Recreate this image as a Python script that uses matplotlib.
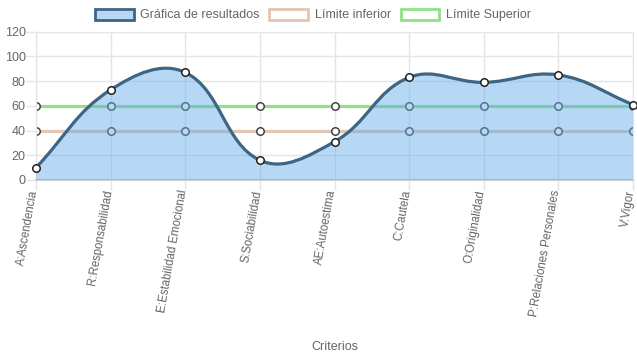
import numpy as np
import matplotlib
matplotlib.use("Agg")
import matplotlib.pyplot as plt
import matplotlib.transforms as mtransforms
from matplotlib.path import Path
from matplotlib.patches import PathPatch, Patch

plt.rcParams['font.family'] = ['Liberation Sans', 'DejaVu Sans']

criterios = ['A:Ascendencia', 'R:Responsabilidad', 'E:Estabilidad Emocional',
             'S:Sociabilidad', 'AE:Autoestima', 'C:Cautela', 'O:Originalidad',
             'P:Relaciones Personales', 'V:Vigor']
resultados = [10, 73, 87, 16, 31, 83, 79, 85, 61]
limite_inferior = [40, 40, 40, 40, 40, 40, 40, 40, 40]
limite_superior = [60, 60, 60, 60, 60, 60, 60, 60, 60]
y_ticks = [0, 20, 40, 60, 80, 100, 120]

TXT = '#666666'
GRID = '#e5e5e5'
LINE = '#3f6585'
FILL = (97/255, 170/255, 235/255, 0.45)
C_INF = '#e3c5b5'
C_SUP = '#8fe186'

W, H = 637, 359
fig = plt.figure(figsize=(W/100, H/100), dpi=100)
ax = fig.add_axes([36/W, 1-180/H, (633-36)/W, (180-31.7)/H])
x = np.arange(len(criterios))
ax.set_xlim(0, len(criterios)-1)
ax.set_ylim(0, 120)

# limit lines (drawn below the filled results dataset)
ax.plot(x, limite_inferior, color=C_INF, lw=2.3, zorder=2,
        marker='o', ms=5.4, mfc='white', mec='#444444', mew=1.1)
ax.plot(x, limite_superior, color=C_SUP, lw=2.3, zorder=2,
        marker='o', ms=5.4, mfc='white', mec='#444444', mew=1.1)

# Chart.js-like bezier spline (tension 0.4) computed in pixel space
def spline_path(xs, ys, t=0.4):
    pts = ax.transData.transform(np.column_stack([xs, ys]))
    n = len(pts)
    cp_prev, cp_next = [], []
    for i in range(n):
        prev = pts[i-1] if i > 0 else pts[i]
        cur = pts[i]
        nxt = pts[i+1] if i < n-1 else pts[i]
        d01 = np.hypot(*(cur-prev))
        d12 = np.hypot(*(nxt-cur))
        tot = d01 + d12
        s01 = d01/tot if tot else 0
        s12 = d12/tot if tot else 0
        cp_prev.append(cur - t*s01*(nxt-prev))
        cp_next.append(cur + t*s12*(nxt-prev))
    verts = [pts[0]]
    codes = [Path.MOVETO]
    for i in range(n-1):
        verts += [cp_next[i], cp_prev[i+1], pts[i+1]]
        codes += [Path.CURVE4]*3
    inv = ax.transData.inverted()
    return inv.transform(np.array(verts)), codes

verts, codes = spline_path(x, resultados)
fv = np.vstack([verts, [[x[-1], 0], [x[0], 0], verts[0]]])
fc = codes + [Path.LINETO, Path.LINETO, Path.CLOSEPOLY]
ax.add_patch(PathPatch(Path(fv, fc), facecolor=FILL, edgecolor='none', zorder=3))
ax.add_patch(PathPatch(Path(verts, codes), facecolor='none', edgecolor=LINE,
                       lw=2.3, zorder=4, capstyle='round', joinstyle='round'))
ax.plot(x, resultados, ls='none', marker='o', ms=5.4, mfc='white',
        mec='#222222', mew=1.1, zorder=5, clip_on=False)

# axes styling
ax.set_yticks(y_ticks)
ax.set_xticks(x)
ax.set_xticklabels([])
ax.tick_params(axis='both', colors=GRID, labelcolor=TXT, labelsize=9, length=7,
               width=1, pad=0.5)
# rotated category labels, anchored just below each tick
off = mtransforms.ScaledTranslation(-2/100, -10/100, fig.dpi_scale_trans)
for xi, lab in zip(x, criterios):
    ax.text(xi, 0, lab, transform=ax.get_xaxis_transform() + off,
            rotation=80, rotation_mode='anchor', ha='right', va='center',
            fontsize=8.3, color=TXT, clip_on=False)
ax.grid(True, color=GRID, lw=1, zorder=0)
ax.set_axisbelow(True)
for s in ax.spines.values():
    s.set_color(GRID)
ax.spines['bottom'].set_color('#cfcfcf')
ax.spines['bottom'].set_linewidth(1.5)
ax.set_xlabel('Criterios', color=TXT, fontsize=9)
ax.xaxis.set_label_coords(0.5, (180-347)/148.3)
ax.xaxis.label.set_va('center')

handles = [Patch(facecolor=FILL, edgecolor=LINE, lw=2),
           Patch(facecolor='white', edgecolor=C_INF, lw=2),
           Patch(facecolor='white', edgecolor=C_SUP, lw=2)]
labels = ['Gráfica de resultados', 'Límite inferior', 'Límite Superior']
fig.legend(handles, labels, loc='center', bbox_to_anchor=(313/W, 1-15/H),
           ncol=3, frameon=False, fontsize=9, labelcolor=TXT,
           handlelength=3.1, handleheight=1.0, handletextpad=0.55,
           columnspacing=0.75, borderaxespad=0)

fig.savefig('out.png', dpi=100)
